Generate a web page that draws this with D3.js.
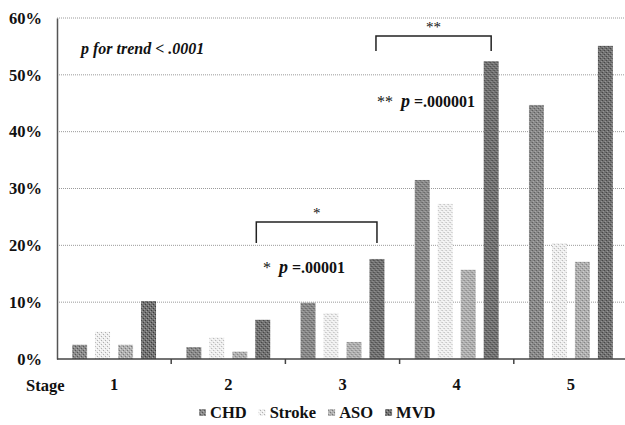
<!DOCTYPE html>
<html>
<head>
<meta charset="UTF-8">
<title>Stage chart</title>
<script src="https://d3js.org/d3.v7.min.js"></script>
</head>
<body style="margin:0;background:#fff">
<div id="chart"></div>
<script>
// data (percent)
var stages = ["1", "2", "3", "4", "5"];
var seriesNames = ["CHD", "Stroke", "ASO", "MVD"];
var chd    = [2.5, 2.1, 9.9, 31.5, 44.7];
var stroke = [4.8, 3.8, 8.1, 27.3, 20.4];
var aso    = [2.5, 1.3, 3.0, 15.7, 17.1];
var mvd    = [10.2, 6.9, 17.6, 52.4, 55.1];
var yTicks = [0, 10, 20, 30, 40, 50, 60];

var values = { CHD: chd, Stroke: stroke, ASO: aso, MVD: mvd };

var width = 625, height = 425;
var margin = { left: 57, right: -3, top: 18, bottom: 66 };
var serif = "'Liberation Serif'";

var svg = d3.select("#chart").append("svg")
    .attr("width", width)
    .attr("height", height);

// helper so every label gets the same type
function label(sel, size) {
  return sel.style("font-family", serif).style("font-weight", "bold")
    .style("font-size", size + "px").attr("fill", "#111");
}

// grainy fills for the bars
var defs = svg.append("defs");
var fills = {
  CHD:    { base: "#8a8a8a", dot: "#555555", lite: "#b0b0b0" },
  Stroke: { base: "#eeeeee", dot: "#b0b0b0", lite: "#ffffff" },
  ASO:    { base: "#b0b0b0", dot: "#7a7a7a", lite: "#d4d4d4" },
  MVD:    { base: "#727272", dot: "#3c3c3c", lite: "#9e9e9e" }
};
seriesNames.forEach(function(s, i) {
  var p = defs.append("pattern")
      .attr("id", "pat" + i)
      .attr("width", 4).attr("height", 4)
      .attr("patternUnits", "userSpaceOnUse");
  p.append("rect").attr("width", 4).attr("height", 4).attr("fill", fills[s].base);
  p.append("rect").attr("x", 0).attr("y", 0).attr("width", 1).attr("height", 1).attr("fill", fills[s].dot);
  p.append("rect").attr("x", 2).attr("y", 2).attr("width", 1).attr("height", 1).attr("fill", fills[s].dot);
  p.append("rect").attr("x", 3).attr("y", 1).attr("width", 1).attr("height", 1).attr("fill", fills[s].lite);
  p.append("rect").attr("x", 1).attr("y", 3).attr("width", 1).attr("height", 1).attr("fill", fills[s].lite);
});

var x0 = d3.scaleBand()
    .domain(stages)
    .range([margin.left, width - margin.right]);

var x1 = d3.scaleBand()
    .domain(seriesNames)
    .range([0, x0.bandwidth()])
    .paddingInner(0.35)
    .paddingOuter(0.66);

var y = d3.scaleLinear()
    .domain([0, 60])
    .range([height - margin.bottom, margin.top]);

// gridlines
svg.append("g")
  .selectAll("line")
  .data(yTicks.slice(1))
  .enter().append("line")
    .attr("x1", margin.left).attr("x2", width)
    .attr("y1", function(d) { return y(d); })
    .attr("y2", function(d) { return y(d); })
    .attr("stroke", "#9a9a9a")
    .attr("stroke-width", 1)
    .attr("stroke-dasharray", "1,1");

// bars
var groups = svg.append("g")
  .selectAll("g")
  .data(stages)
  .enter().append("g")
    .attr("transform", function(d) { return "translate(" + x0(d) + ",0)"; });

groups.selectAll("rect")
  .data(function(d, i) { return seriesNames.map(function(s) { return { s: s, v: values[s][i] }; }); })
  .enter().append("rect")
    .attr("x", function(d) { return x1(d.s); })
    .attr("width", x1.bandwidth())
    .attr("y", function(d) { return y(d.v); })
    .attr("height", function(d) { return y(0) - y(d.v); })
    .attr("fill", function(d) { return "url(#pat" + seriesNames.indexOf(d.s) + ")"; });

// y axis
var yAxis = svg.append("g")
    .attr("transform", "translate(" + margin.left + ",0)")
    .call(d3.axisLeft(y).tickValues(yTicks).tickSize(0).tickPadding(15)
      .tickFormat(function(d) { return d + "%"; }));
yAxis.attr("font-family", null);
yAxis.select(".domain").attr("stroke", "#555").attr("stroke-width", 1.5);
label(yAxis.selectAll("text"), 16.5);

// x axis
var xAxis = svg.append("g")
    .attr("transform", "translate(0," + y(0) + ")");
xAxis.append("line")
    .attr("x1", margin.left).attr("x2", width)
    .attr("stroke", "#444").attr("stroke-width", 1.5);
xAxis.selectAll(".tk")
  .data(stages.slice(1))
  .enter().append("line")
    .attr("class", "tk")
    .attr("x1", function(d) { return x0(d); })
    .attr("x2", function(d) { return x0(d); })
    .attr("y1", 0).attr("y2", 5)
    .attr("stroke", "#444").attr("stroke-width", 1.5);
label(xAxis.selectAll(".lbl")
  .data(stages)
  .enter().append("text")
    .attr("class", "lbl")
    .attr("x", function(d) { return x0(d) + x0.bandwidth() / 2; })
    .attr("y", 31)
    .attr("text-anchor", "middle")
    .text(function(d) { return d; }), 16.5);
label(xAxis.append("text")
    .attr("x", 26).attr("y", 32)
    .text("Stage"), 16.5);

// trend annotation
label(svg.append("text")
    .attr("x", 81).attr("y", 54)
    .text("p for trend < .0001"), 16)
    .style("font-style", "italic");

// brackets
function mvdCenter(i) { return x0(stages[i]) + x1("MVD") + x1.bandwidth() / 2; }
function bracket(xa, xb, yTop, yBot, mark) {
  svg.append("path")
    .attr("d", "M" + xa + "," + yBot + "V" + yTop + "H" + xb + "V" + yBot)
    .attr("fill", "none").attr("stroke", "#222").attr("stroke-width", 1.5);
  label(svg.append("text")
    .attr("x", (xa + xb) / 2).attr("y", yTop - 4)
    .attr("text-anchor", "middle")
    .text(mark), 15)
    .style("font-weight", "normal");
}
bracket(x0(stages[1]) + x1("MVD") + 1, mvdCenter(2), 222, 243, "*");
bracket(mvdCenter(2) - 1, mvdCenter(3), 36, 51, "**");

function pLabel(xp, yp, mark, txt) {
  var t = label(svg.append("text").attr("x", xp).attr("y", yp), 16);
  t.append("tspan").style("font-weight", "normal").text(mark + "\u00a0\u00a0");
  t.append("tspan").style("font-style", "italic").style("font-size", "18px").text("p");
  t.append("tspan").text(" =" + txt);
}
pLabel(263, 273, "*", ".00001");
pLabel(377, 107, "**", ".000001");

// legend
var legend = svg.append("g").attr("transform", "translate(0,418)");
var lx = 199;
seriesNames.forEach(function(s, i) {
  legend.append("rect")
    .attr("x", lx).attr("y", -9)
    .attr("width", 7).attr("height", 7)
    .attr("fill", "url(#pat" + i + ")");
  var t = label(legend.append("text")
    .attr("x", lx + 11).attr("y", 0)
    .text(s), 16.5);
  lx += 11 + t.node().getComputedTextLength() + 12;
});
</script>
</body>
</html>
